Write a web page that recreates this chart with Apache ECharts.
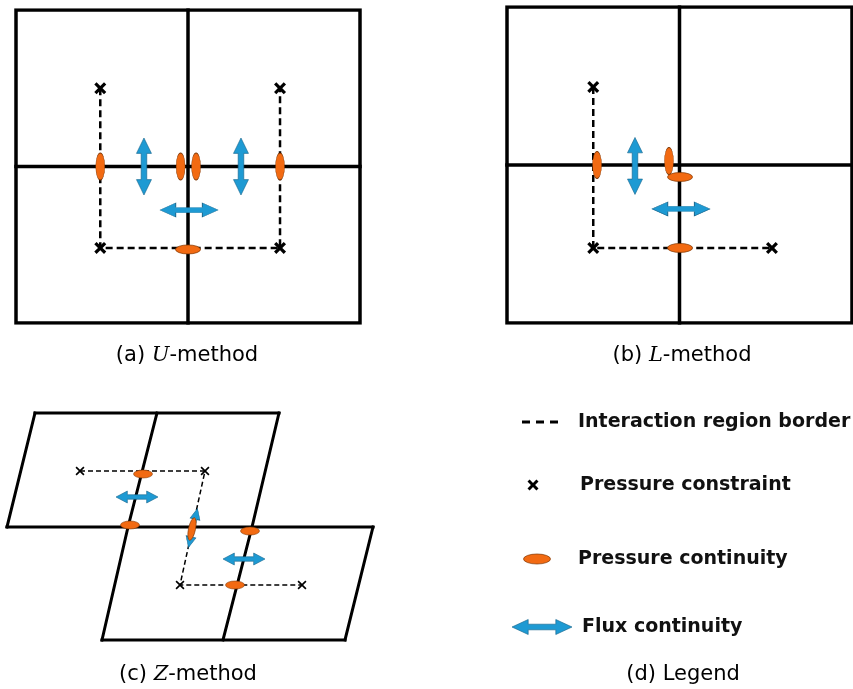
<!DOCTYPE html>
<html>
<head>
<meta charset="utf-8">
<script src="https://cdn.jsdelivr.net/npm/echarts@6/dist/echarts.min.js"></script>
<style>
html,body{margin:0;padding:0;background:#fff;}
#chart{width:853px;height:689px;}
</style>
</head>
<body>
<div id="chart"></div>
<script>
// ---------- Panel (a): U-method (cell units, 2x2 cells) ----------
var uCells = [
  [[0,0],[2,0],[2,2],[0,2],[0,0]],
  [[1,0],[1,2]],
  [[0,1],[2,1]]
];
var uBorder = [[0.49,1.5],[0.49,0.48],[1.535,0.48],[1.535,1.5]];
var uConstraint = [[0.49,1.5],[1.535,1.5],[0.49,0.48],[1.535,0.48]];
var uContinuityV = [[0.49,1.0],[0.957,1.0],[1.047,1.0],[1.535,1.0]];
var uContinuityH = [[1.0,0.47]];
var uFluxV = [[0.744,1.0],[1.308,1.0]];
var uFluxH = [[1.006,0.722]];

// ---------- Panel (b): L-method ----------
var lCells = [
  [[0,0],[2,0],[2,2],[0,2],[0,0]],
  [[1,0],[1,2]],
  [[0,1],[2,1]]
];
var lBorder = [[0.5,1.494],[0.5,0.475],[1.536,0.475]];
var lConstraint = [[0.5,1.494],[0.5,0.475],[1.536,0.475]];
var lContinuityV = [[0.522,1.0],[0.939,1.025]];
var lContinuityH = [[1.003,0.924],[1.003,0.475]];
var lFluxV = [[0.742,0.994]];
var lFluxH = [[1.009,0.722]];

// ---------- Panel (c): Z-method (skewed cells) ----------
var zCells = [
  [[35,13],[279,13]],
  [[7,127],[373,127]],
  [[102,240],[345,240]],
  [[35,13],[7,127]],
  [[157,13],[128,127],[102,240]],
  [[279,13],[252,127],[223,240]],
  [[373,127],[345,240]]
];
var zBorder = [[80,71],[205,71],[180,185],[302,185]];
var zConstraint = [[80,71],[205,71],[180,185],[302,185]];
var zContinuityH = [[143,74],[130,125],[250,131],[235,185]];
var zContinuitySlant = [[192,129]];
var zFluxH = [[137,97],[244,159]];
var zFluxSlant = [[193,128]];

// ---------- Panel (d): Legend ----------
var legendBorder = [[32,22],[72,22]];
var legendConstraint = [[43,85]];
var legendContinuity = [[47,159]];
var legendFlux = [[52,227]];
var legendLabels = ['Interaction region border','Pressure constraint','Pressure continuity','Flux continuity'];
var captions = ['(a) {i|U}-method','(b) {i|L}-method','(c) {i|Z}-method','(d) Legend'];

var ORANGE = '#F26A12';
var ORANGE_EDGE = '#7a3300';
var BLUE = '#1E9AD3';
var BLUE_EDGE = '#17658c';

var CROSS_THICK = 'path://M0,1.9 L1.9,0 L5,3.1 L8.1,0 L10,1.9 L6.9,5 L10,8.1 L8.1,10 L5,6.9 L1.9,10 L0,8.1 L3.1,5 Z';
var CROSS_THIN = 'path://M0,1.3 L1.3,0 L5,3.7 L8.7,0 L10,1.3 L6.3,5 L10,8.7 L8.7,10 L5,6.3 L1.3,10 L0,8.7 L3.7,5 Z';
var ARROW = 'path://M0,12 L27,0 L27,7.5 L73,7.5 L73,0 L100,12 L73,24 L73,16.5 L27,16.5 L27,24 Z';

function cellLines(id, data, width){
  return {type:'lines', coordinateSystem:'cartesian2d', xAxisIndex:id, yAxisIndex:id, polyline:true,
    silent:true, z:2, lineStyle:{color:'#000', width:width, opacity:1, cap:'square', join:'miter'},
    data: data.map(function(c){return {coords:c};})};
}
function dashLine(id, data, width, dash){
  return {type:'lines', coordinateSystem:'cartesian2d', xAxisIndex:id, yAxisIndex:id, polyline:true,
    silent:true, z:3, lineStyle:{color:'#000', width:width, opacity:1, type:dash},
    data:[{coords:data}]};
}
function marks(id, data, symbol, size, rotate, color, edge, edgeW, z){
  return {type:'scatter', xAxisIndex:id, yAxisIndex:id, silent:true, z:z||5,
    symbol:symbol, symbolSize:size, symbolRotate:rotate||0,
    itemStyle:{color:color, borderColor:edge||color, borderWidth:edgeW||0, opacity:1},
    data:data};
}

var grids = [
  {left:16, top:10, width:344, height:313},
  {left:507, top:7, width:345, height:316},
  {left:0, top:400, width:380, height:250},
  {left:490, top:400, width:363, height:250}
];
var xAxes = [
  {gridIndex:0, type:'value', min:0, max:2, show:false},
  {gridIndex:1, type:'value', min:0, max:2, show:false},
  {gridIndex:2, type:'value', min:0, max:380, show:false},
  {gridIndex:3, type:'value', min:0, max:363, show:false}
];
var yAxes = [
  {gridIndex:0, type:'value', min:0, max:2, show:false},
  {gridIndex:1, type:'value', min:0, max:2, show:false},
  {gridIndex:2, type:'value', min:0, max:250, inverse:true, show:false},
  {gridIndex:3, type:'value', min:0, max:250, inverse:true, show:false}
];

var series = [
  // (a)
  cellLines(0, uCells, 3.5),
  dashLine(0, uBorder, 2.5, [7,4]),
  marks(0, uConstraint, CROSS_THICK, 12, 0, '#000'),
  marks(0, uContinuityV, 'circle', [9,27], 0, ORANGE, ORANGE_EDGE, 0.6, 6),
  marks(0, uContinuityH, 'circle', [25,9], 0, ORANGE, ORANGE_EDGE, 0.6, 6),
  marks(0, uFluxV, ARROW, [57,15], 90, BLUE, BLUE_EDGE, 0.5, 6),
  marks(0, uFluxH, ARROW, [58,14], 0, BLUE, BLUE_EDGE, 0.5, 6),
  // (b)
  cellLines(1, lCells, 3.5),
  dashLine(1, lBorder, 2.5, [7,4]),
  marks(1, lConstraint, CROSS_THICK, 12, 0, '#000'),
  marks(1, lContinuityV, 'circle', [9,27], 0, ORANGE, ORANGE_EDGE, 0.6, 6),
  marks(1, lContinuityH, 'circle', [25,9], 0, ORANGE, ORANGE_EDGE, 0.6, 7),
  marks(1, lFluxV, ARROW, [57,15], 90, BLUE, BLUE_EDGE, 0.5, 6),
  marks(1, lFluxH, ARROW, [58,14], 0, BLUE, BLUE_EDGE, 0.5, 6),
  // (c)
  cellLines(2, zCells, 3),
  dashLine(2, zBorder, 1.5, [5,3]),
  marks(2, zConstraint, CROSS_THIN, 9, 0, '#000'),
  marks(2, zFluxH, ARROW, [42,12], 0, BLUE, BLUE_EDGE, 0.5, 6),
  marks(2, zFluxSlant, ARROW, [40,10], 77, BLUE, BLUE_EDGE, 0.5, 6),
  marks(2, zContinuityH, 'circle', [19,8], 0, ORANGE, ORANGE_EDGE, 0.5, 7),
  marks(2, zContinuitySlant, 'circle', [7,23], -12, ORANGE, ORANGE_EDGE, 0.5, 7),
  // (d)
  dashLine(3, legendBorder, 3, [8,6]),
  marks(3, legendConstraint, CROSS_THICK, 11, 0, '#000'),
  marks(3, legendContinuity, 'circle', [27,10], 0, ORANGE, ORANGE_EDGE, 0.6, 6),
  marks(3, legendFlux, ARROW, [60,15], 0, BLUE, BLUE_EDGE, 0.5, 6)
];

var capFont = '21px "DejaVu Sans"';
var capRich = {i:{fontFamily:'"DejaVu Serif"', fontStyle:'italic', fontSize:21, fill:'#000'}};
var capPos = [[187,356],[682,356],[188,675],[683,675]];
var legPos = [[578,422],[580,485],[578,559],[582,627]];

var graphic = [];
captions.forEach(function(t,i){
  graphic.push({type:'text', x:capPos[i][0], y:capPos[i][1], silent:true,
    style:{text:t, font:capFont, fill:'#000', align:'center', verticalAlign:'middle', rich:capRich}});
});
legendLabels.forEach(function(t,i){
  graphic.push({type:'text', x:legPos[i][0], y:legPos[i][1], silent:true,
    style:{text:t, font:'bold 19px "DejaVu Sans"', fill:'#111', align:'left', verticalAlign:'middle'}});
});

var chart = echarts.init(document.getElementById('chart'), null, {renderer:'canvas'});
chart.setOption({
  animation:false,
  backgroundColor:'#fff',
  grid:grids,
  xAxis:xAxes,
  yAxis:yAxes,
  series:series,
  graphic:graphic
});
</script>
</body>
</html>
